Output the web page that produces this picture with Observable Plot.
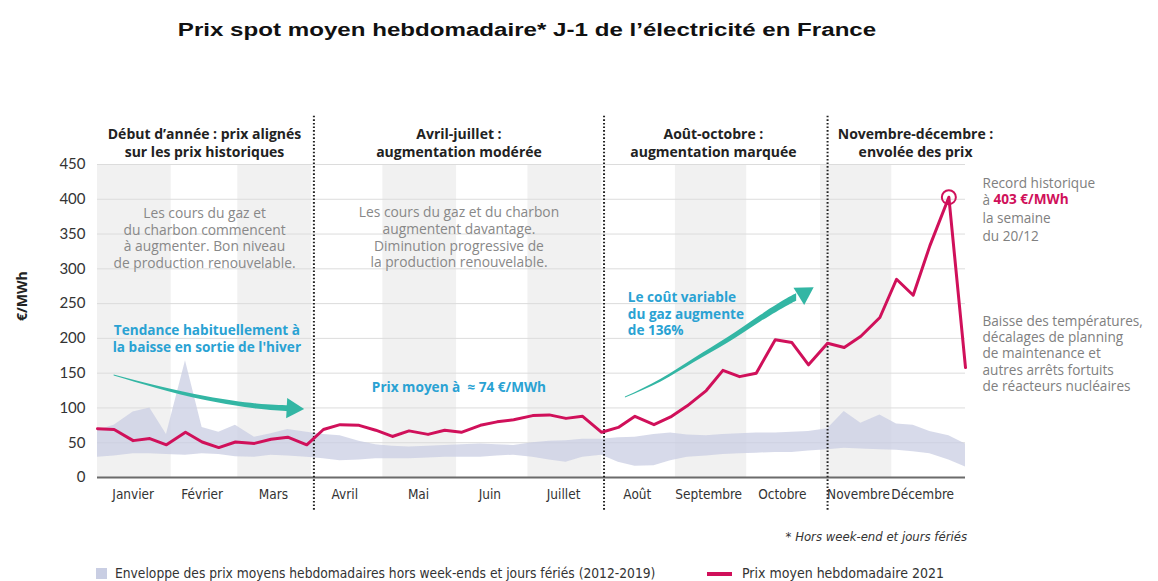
<!DOCTYPE html>
<html><head><meta charset="utf-8">
<script src="https://cdn.jsdelivr.net/npm/d3@7"></script>
<script src="https://cdn.jsdelivr.net/npm/@observablehq/plot@0.6"></script>
<style>
html,body{margin:0;padding:0;background:#fff;}
body{width:1158px;height:581px;overflow:hidden;position:relative;font-family:"Open Sans",Lato,sans-serif;}
#title{position:absolute;left:0;width:1054px;top:20px;text-align:center;font:bold 18px "Liberation Sans",Arial,sans-serif;color:#111;transform:scaleX(1.34);transform-origin:527px 0;}
#chart{position:absolute;left:0;top:60px;}
#note{position:absolute;left:0;width:967px;top:529px;text-align:right;font:italic 13px "Liberation Sans Narrow","DejaVu Sans Condensed",sans-serif;color:#333;}
.lg{position:absolute;top:566px;font:13.7px "Liberation Sans Narrow","DejaVu Sans Condensed",sans-serif;color:#333;line-height:14px;white-space:nowrap;}
.sw{position:absolute;}
</style></head>
<body>
<div id="title">Prix spot moyen hebdomadaire* J-1 de l’électricité en France</div>
<div id="chart"></div>
<div id="note">* Hors week-end et jours fériés</div>
<div class="sw" style="left:96px;top:568px;width:11px;height:11px;background:#c9cee3"></div>
<div class="lg" style="left:115px">Enveloppe des prix moyens hebdomadaires hors week-ends et jours fériés (2012-2019)</div>
<div class="sw" style="left:707px;top:572px;width:25px;height:4px;background:#d0105a"></div>
<div class="lg" style="left:742px;font-size:14px">Prix moyen hebdomadaire 2021</div>
<script>
// ---- data ----
const weeks = ["2021-01-01","2021-01-08","2021-01-16","2021-01-23","2021-01-30","2021-02-07","2021-02-14","2021-02-21","2021-02-28","2021-03-08","2021-03-15","2021-03-22","2021-03-30","2021-04-06","2021-04-13","2021-04-21","2021-04-28","2021-05-05","2021-05-12","2021-05-20","2021-05-27","2021-06-03","2021-06-11","2021-06-18","2021-06-25","2021-07-03","2021-07-10","2021-07-17","2021-07-24","2021-08-01","2021-08-08","2021-08-15","2021-08-23","2021-08-30","2021-09-06","2021-09-14","2021-09-21","2021-09-28","2021-10-05","2021-10-13","2021-10-20","2021-10-27","2021-11-04","2021-11-11","2021-11-18","2021-11-26","2021-12-03","2021-12-10","2021-12-17","2021-12-25","2022-01-01"];
const prix2021 = [70,69,53,56,47,65,51,43,51,49,55,58,47,69,76,75,68,59,67,62,68,65,75,80,83,89,90,85,88,65,72,88,76,87,103,125,154,145,150,198,194,162,193,187,203,230,285,262,333,403,158];
const envMax = [68,75,94,100,62,168,72,65,75,58,63,69,65,62,60,52,47,45,44,45,46,47,48,47,46,50,52,53,55,55,57,58,62,64,61,60,62,63,64,64,65,66,70,95,78,90,77,75,66,60,48];
const envMin = [29,31,34,34,33,32,34,33,30,29,32,31,29,27,24,25,27,27,27,28,29,29,29,31,32,29,25,22,29,32,22,16,17,24,29,31,33,34,35,36,36,38,40,42,41,40,39,37,34,25,15];
const monthStarts = ["2021-01-01","2021-02-01","2021-03-01","2021-04-01","2021-05-01","2021-06-01","2021-07-01","2021-08-01","2021-09-01","2021-10-01","2021-11-01","2021-12-01","2022-01-01"];
const monthNames = ["Janvier","Février","Mars","Avril","Mai","Juin","Juillet","Août","Septembre","Octobre","Novembre","Décembre"];
const monthMids = ["2021-01-16","2021-02-14","2021-03-16","2021-04-15","2021-05-16","2021-06-15","2021-07-16","2021-08-16","2021-09-15","2021-10-16","2021-11-17","2021-12-14"];
const phaseDates = ["2021-04-02","2021-08-02","2021-11-04"];
const yTicks = [0,50,100,150,200,250,300,350,400,450];
const recordIndex = 49;

// annotations (data space)
const headers = [
  {d:"2021-02-15", t:"Début d’année : prix alignés\nsur les prix historiques"},
  {d:"2021-06-02", t:"Avril-juillet :\naugmentation modérée"},
  {d:"2021-09-17", t:"Août-octobre :\naugmentation marquée"},
  {d:"2021-12-11", t:"Novembre-décembre :\nenvolée des prix"}
];
const greyNotes = [
  {d:"2021-02-15", v:345, t:"Les cours du gaz et\ndu charbon commencent\nà augmenter. Bon niveau\nde production renouvelable."},
  {d:"2021-06-02", v:346, t:"Les cours du gaz et du charbon\naugmentent davantage.\nDiminution progressive de\nla production renouvelable."}
];
const blueCentered = [
  {d:"2021-02-16", v:200, t:"Tendance habituellement à\nla baisse en sortie de l'hiver"},
  {d:"2021-06-02", v:131, t:"Prix moyen à  ≈ 74 €/MWh"}
];
const blueLeft = [{d:"2021-08-12", v:236, t:"Le coût variable\ndu gaz augmente\nde 136%"}];
const arrow1 = {d:["2021-01-08","2021-01-26","2021-02-16","2021-03-09","2021-03-23"], v:[146.6,129.8,113.1,102,98.8], w:[1.4,3.6,5.8,7.2,8.6]};
const arrow2 = {d:["2021-08-11","2021-08-26","2021-09-09","2021-09-23","2021-10-07","2021-10-18","2021-10-22"], v:[115,139.4,168.2,197,228.6,251.6,258.8], w:[1.2,4,6,8,9.5,10.5,10.5]};
const heads = [{d:"2021-03-24", v:99.2, rot:93},{d:"2021-10-25", v:264.8, rot:58}];
const rightGrey = [
  {t:"Record historique", v:424},
  {t:"à", v:399.7},
  {t:"la semaine", v:374},
  {t:"du 20/12", v:348},
  {t:"Baisse des températures,\ndécalages de planning\nde maintenance et\nautres arrêts fortuits\nde réacteurs nucléaires", v:179}
];
const rightRecord = [{t:"403 €/MWh", v:399.7}];

// ---- build ----
const P = d3.utcParse("%Y-%m-%d");
const table = weeks.map((w,i)=>({date:P(w), prix:prix2021[i], min:envMin[i], max:envMax[i]}));
const bands = monthStarts.slice(0,-1).map((m,i)=>({x1:P(m), x2:P(monthStarts[i+1]), i})).filter(b=>b.i%2===0);
const months = monthMids.map((m,i)=>({date:P(m), name:monthNames[i]}));
const arrowRows = a => a.d.map((d,i)=>({date:P(d), y1:a.v[i]-a.w[i]/2, y2:a.v[i]+a.w[i]/2}));
const rec = table[recordIndex];
const endDate = P(weeks[weeks.length-1]);
const crimson = "#d0105a", teal = "#33b6a4", blue = "#2aa2d3", grey = "#808080";
const noteFont = "'Open Sans', Lato, sans-serif";

const chart = Plot.plot({
  width:1158, height:460, marginTop:104, marginBottom:43, marginLeft:97, marginRight:193,
  x:{type:"utc", domain:[P(monthStarts[0]), P(monthStarts[12])], axis:null},
  y:{domain:[0,450], axis:null},
  style:{fontFamily:noteFont, background:"white", overflow:"visible"},
  marks:[
    Plot.rect(bands, {x1:"x1", x2:"x2", fill:"#f1f1f1"}),
    Plot.ruleY(yTicks.filter(d=>d>0), {stroke:"#dcdcdc", strokeWidth:1}),
    Plot.areaY(table, {x:"date", y1:"min", y2:"max", fill:"#c9cee3", fillOpacity:0.75}),
    Plot.ruleY([0], {stroke:"#6b6b6b", strokeWidth:2}),
    Plot.ruleX(phaseDates.map(P), {y1:-47, y2:520, stroke:"#222", strokeWidth:2, strokeDasharray:"1.6,2"}),
    Plot.axisY(yTicks, {tickSize:0, tickPadding:12, fontSize:15, fill:"#333", label:null, fontFamily:"Lato, sans-serif"}),
    Plot.text(["€/MWh"], {frameAnchor:"left", dx:-75, rotate:-90, fontWeight:"bold", fontSize:14, fill:"#222"}),
    Plot.text(months, {x:"date", text:"name", frameAnchor:"bottom", dy:21, fontSize:13.5, fill:"#333", fontFamily:"'Liberation Sans Narrow','DejaVu Sans Condensed',sans-serif"}),
    Plot.areaY(arrowRows(arrow1), {x:"date", y1:"y1", y2:"y2", fill:teal, curve:"natural"}),
    Plot.areaY(arrowRows(arrow2), {x:"date", y1:"y1", y2:"y2", fill:teal, curve:"natural"}),
    Plot.dot(heads, {x:d=>P(d.d), y:"v", symbol:"triangle", r:7.5, fill:teal, stroke:"none", rotate:"rot"}),
    Plot.line(table, {x:"date", y:"prix", stroke:crimson, strokeWidth:3, strokeLinejoin:"round"}),
    Plot.dot([rec], {x:"date", y:"prix", r:7, stroke:crimson, strokeWidth:2, fill:"none"}),
    Plot.text(headers, {x:d=>P(d.d), y:()=>482, text:"t", fontWeight:"bold", fontSize:14, fill:"#222", lineHeight:1.32}),
    Plot.text(greyNotes, {x:d=>P(d.d), y:"v", text:"t", fontSize:13.8, fill:"#888", lineHeight:1.22}),
    Plot.text(blueCentered, {x:d=>P(d.d), y:"v", text:"t", fontWeight:"bold", fontSize:13.6, fill:blue, lineHeight:1.2}),
    Plot.text(blueLeft, {x:d=>P(d.d), y:"v", text:"t", textAnchor:"start", fontWeight:"bold", fontSize:13.6, fill:blue, lineHeight:1.2}),
    Plot.text(rightGrey, {x:()=>endDate, y:"v", text:"t", dx:17, textAnchor:"start", fill:grey, fontSize:13.6, lineHeight:1.2}),
    Plot.text(rightRecord, {x:()=>endDate, y:"v", text:"t", dx:28, textAnchor:"start", fill:crimson, fontWeight:"bold", fontSize:13.6})
  ]
});
document.getElementById("chart").appendChild(chart);
</script>
</body></html>
